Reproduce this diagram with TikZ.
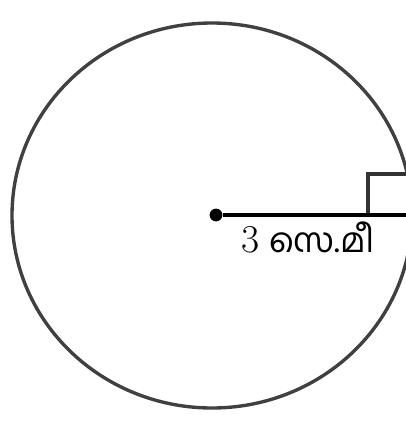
\documentclass[tikz,border=0pt]{standalone}
\usepackage{fontspec}
\newfontfamily\malfont[Script=Malayalam]{Hind Kochi}
\usetikzlibrary{positioning}
\tikzstyle{rim}    = [draw=black!75, line width=2.4pt]
\tikzstyle{radius} = [draw=black, line width=2.6pt]
\tikzstyle{centre} = [circle, fill=black, inner sep=0pt, minimum size=0.32cm]
\tikzstyle{rtmark} = [draw=black!80, line width=2.2pt]

\begin{document}
\begin{tikzpicture}[x=0.025cm, y=-0.025cm]
  \useasboundingbox (0,0) rectangle (406,435);
  \clip (0,0) rectangle (406,435);

  \draw[rim] (212,215.5) ellipse [x radius=200, y radius=192.5];

  \node[centre] (o) at (216,215) {};
  \coordinate (edge) at (412,215);
  \coordinate (m1) at (368,215);
  \coordinate (m2) at (368,174);
  \coordinate (m3) at (412,174);

  \draw[rtmark] (m1) -- (m2) -- (m3);
  \draw[radius] (o) -- (edge);

  \node[anchor=base, inner sep=0pt, font=\fontsize{24}{28}\selectfont]
    (r) at (308,252) {{\fontsize{28}{30}\selectfont 3} {\malfont സെ.മീ}};
\end{tikzpicture}
\end{document}
